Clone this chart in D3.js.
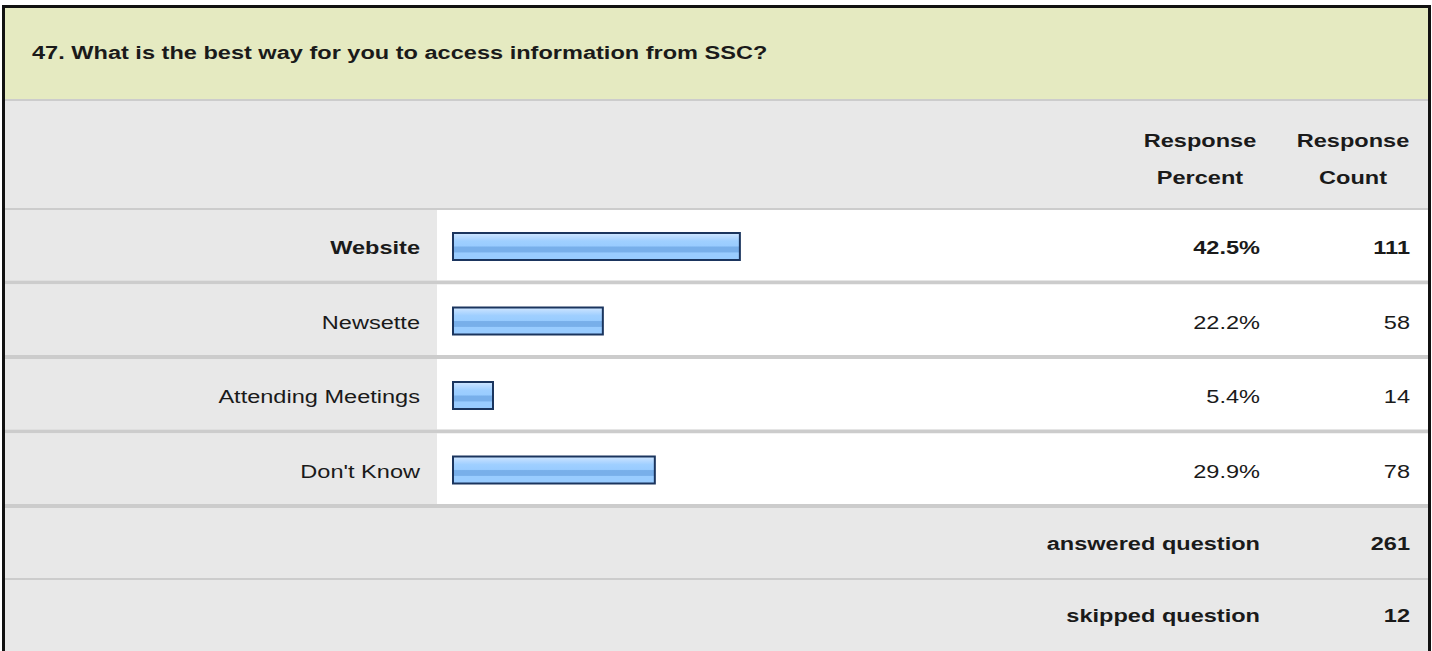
<!DOCTYPE html>
<html>
<head>
<meta charset="utf-8">
<script src="https://cdn.jsdelivr.net/npm/d3@7"></script>
<style>
  body { margin: 0; background: #fff; }
  svg { display: block; font-family: "Liberation Sans", Arial, sans-serif; }
  text { fill: #1a1a1a; }
</style>
</head>
<body>
<svg width="1432" height="651"></svg>
<script>
var title = "47. What is the best way for you to access information from SSC?";
var categories = ["Website", "Newsette", "Attending Meetings", "Don't Know"];
var percents = [42.5, 22.2, 5.4, 29.9];
var counts = [111, 58, 14, 78];
var summaryLabels = ["answered question", "skipped question"];
var summaryValues = [261, 12];

var svg = d3.select("svg"),
    width = +svg.attr("width"),
    height = +svg.attr("height");

var left = 5, right = 1428;
var labelColW = 437;
var sx = 1.24; // the survey text is drawn a bit wide

// text placed with a horizontal stretch around its anchor
function label(sel, tx, ty, size, bold, anchor) {
  return sel.append("text")
      .attr("transform", "translate(" + tx + "," + ty + ") scale(" + sx + ",1)")
      .attr("text-anchor", anchor || "end")
      .attr("font-size", size)
      .attr("font-weight", bold ? "bold" : "normal");
}

var defs = svg.append("defs");
var grad = defs.append("linearGradient")
    .attr("id", "barGrad")
    .attr("x1", 0).attr("y1", 0).attr("x2", 0).attr("y2", 1);
[[0, "#d2e9ff"], [0.12, "#bcdcff"], [0.3, "#9fcfff"], [0.48, "#99ccff"],
 [0.52, "#78afea"], [0.7, "#78afea"], [0.74, "#99ccff"], [1, "#99ccff"]]
  .forEach(s => grad.append("stop").attr("offset", s[0]).attr("stop-color", s[1]));

// header band
svg.append("rect").attr("x", left).attr("y", 8).attr("width", right - left).attr("height", 91)
    .attr("fill", "#e5eac1");
label(svg, 32, 59, 19, true, "start").text(title);

svg.append("rect").attr("x", left).attr("y", 99).attr("width", right - left).attr("height", 2)
    .attr("fill", "#cccccc");
svg.append("rect").attr("x", left).attr("y", 101).attr("width", right - left).attr("height", 107)
    .attr("fill", "#e8e8e8");
svg.append("rect").attr("x", left).attr("y", 208).attr("width", right - left).attr("height", 2)
    .attr("fill", "#cccccc");

var colPct = 1200, colCnt = 1353;
[["Response", "Percent", colPct], ["Response", "Count", colCnt]].forEach(h => {
  label(svg, h[2], 147, 19, true, "middle").text(h[0]);
  label(svg, h[2], 184, 19, true, "middle").text(h[1]);
});

// answer rows
var y = d3.scaleBand()
    .domain(categories)
    .range([210, 508])
    .paddingInner(0);

var x = d3.scaleLinear().domain([0, 100]).range([0, 675]);
var barX = 453;

var rows = svg.append("g").selectAll("g")
    .data(categories)
    .enter().append("g")
    .attr("transform", d => "translate(0," + y(d) + ")");

rows.append("rect").attr("x", left).attr("y", 0)
    .attr("width", labelColW - left).attr("height", y.bandwidth() - 4)
    .attr("fill", "#e8e8e8");
rows.append("rect").attr("x", labelColW).attr("y", 0)
    .attr("width", right - labelColW).attr("height", y.bandwidth() - 4)
    .attr("fill", "#ffffff");
rows.append("rect").attr("x", left).attr("y", y.bandwidth() - 4)
    .attr("width", right - left).attr("height", 4)
    .attr("fill", "#cccccc");

rows.append("rect")
    .attr("x", barX)
    .attr("y", 23)
    .attr("width", (d, i) => Math.max(x(percents[i]), 40))
    .attr("height", 27)
    .attr("fill", "url(#barGrad)")
    .attr("stroke", "#1b355e")
    .attr("stroke-width", 2);

rows.each(function(d, i) {
  var g = d3.select(this);
  label(g, 420, 44, 19, i === 0).text(d);
  label(g, 1260, 44, 19, i === 0).text(percents[i].toFixed(1) + "%");
  label(g, 1410, 44, 19, i === 0).text(counts[i]);
});

// summary rows
var ys = d3.scaleBand().domain(summaryLabels).range([508, 652]);
var srows = svg.append("g").selectAll("g")
    .data(summaryLabels)
    .enter().append("g")
    .attr("transform", d => "translate(0," + ys(d) + ")");
srows.append("rect").attr("x", left).attr("y", 0)
    .attr("width", right - left).attr("height", ys.bandwidth())
    .attr("fill", "#e8e8e8");
srows.filter((d, i) => i === 0).append("rect")
    .attr("x", left).attr("y", ys.bandwidth() - 2)
    .attr("width", right - left).attr("height", 2)
    .attr("fill", "#cccccc");
srows.each(function(d, i) {
  var g = d3.select(this);
  label(g, 1260, 42, 19, true).text(d);
  label(g, 1410, 42, 19, true).text(summaryValues[i]);
});

// outer frame
svg.append("rect").attr("x", 3.5).attr("y", 6.5)
    .attr("width", 1426).attr("height", 700)
    .attr("fill", "none").attr("stroke", "#111").attr("stroke-width", 3);
</script>
</body>
</html>
